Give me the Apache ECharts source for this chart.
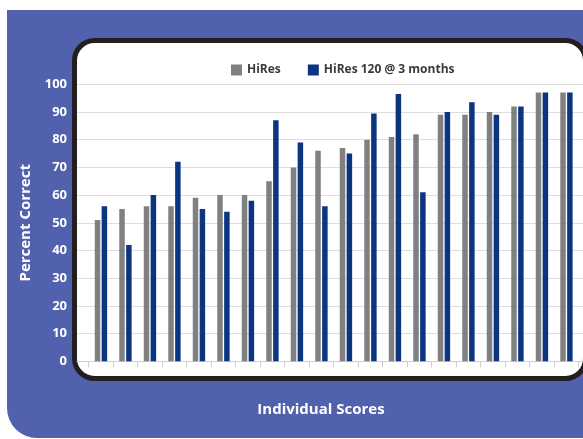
<!DOCTYPE html>
<html>
<head>
<meta charset="utf-8">
<script src="https://cdn.jsdelivr.net/npm/echarts@6/dist/echarts.min.js"></script>
<style>
  html, body { margin: 0; padding: 0; background: #fff; }
  #chart { width: 583px; height: 439px; }
</style>
</head>
<body>
<div id="chart"></div>
<script>
// data
var categories = ['1', '2', '3', '4', '5', '6', '7', '8', '9', '10',
  '11', '12', '13', '14', '15', '16', '17', '18', '19', '20']
var hiresScores = [51, 55, 56, 56, 59, 60, 60, 65, 70, 76, 77, 80, 81, 82, 89, 89, 90, 92, 97, 97]
var hires120Scores = [56, 42, 60, 72, 55, 54, 58, 87, 79, 56, 75, 89.5, 96.5, 61, 90, 93.5, 89, 92, 97, 97]
var yTicks = [0, 10, 20, 30, 40, 50, 60, 70, 80, 90, 100]

var seriesNames = ['HiRes', 'HiRes 120 @ 3 months']
var colorMap = ['#808083', '#0b3580']
var panelBlue = '#5161ad'
var fontFamily = '"Open Sans", "Noto Sans", sans-serif'

var chart = echarts.init(document.getElementById('chart'), null, { renderer: 'canvas' })

var series = []
var seriesData = [hiresScores, hires120Scores]
for (var i = 0; i < seriesData.length; i++) {
  series.push({
    name: seriesNames[i],
    type: 'bar',
    xAxisIndex: 1,
    yAxisIndex: 1,
    data: seriesData[i],
    barWidth: 5.5,
    barGap: '25%',
    itemStyle: { color: colorMap[i] },
    animation: false
  })
}

chart.setOption({
  animation: false,
  textStyle: { fontFamily: fontFamily },
  graphic: {
    elements: [
      // blue panel behind everything
      {
        type: 'rect',
        z: -20,
        shape: { x: 7, y: 10, width: 620, height: 428, r: [0, 30, 0, 30] },
        style: { fill: panelBlue }
      },
      // white plot box with thick black border (right side runs off the edge)
      {
        type: 'rect',
        z: -10,
        shape: { x: 74.5, y: 40.5, width: 511, height: 338, r: 20 },
        style: { fill: '#fff', stroke: '#231f20', lineWidth: 5 }
      },
      {
        type: 'text',
        z: 10,
        x: 321,
        y: 410,
        style: {
          text: 'Individual Scores',
          align: 'center',
          verticalAlign: 'middle',
          fill: '#fff',
          font: 'bold 15px ' + fontFamily
        }
      }
    ]
  },
  legend: {
    data: seriesNames,
    left: 226,
    top: 59,
    itemWidth: 11,
    itemHeight: 11,
    itemGap: 27,
    icon: 'rect',
    textStyle: { color: '#3a3a3a', fontWeight: 'bold', fontSize: 12, fontFamily: fontFamily }
  },
  grid: [
    // grid 0 only draws the split lines, baseline and y labels
    { left: 77, right: 0, top: 84.3, bottom: 77.7 },
    // grid 1 holds the bars
    { left: 88.7, right: 4.3, top: 84.3, bottom: 77.7 }
  ],
  xAxis: [
    {
      gridIndex: 0,
      type: 'value',
      min: 0,
      max: 1,
      axisLine: { show: true, lineStyle: { color: '#cfcfcf', width: 1 } },
      axisTick: { show: false },
      axisLabel: { show: false },
      splitLine: { show: false }
    },
    {
      gridIndex: 1,
      type: 'category',
      data: categories,
      axisLine: { show: false },
      axisTick: { show: true, length: 6, lineStyle: { color: '#cfcfcf' } },
      axisLabel: { show: false }
    }
  ],
  yAxis: [
    {
      gridIndex: 0,
      type: 'value',
      min: yTicks[0],
      max: yTicks[yTicks.length - 1],
      interval: 10,
      name: 'Percent Correct',
      nameLocation: 'middle',
      nameGap: 44,
      nameTextStyle: { color: '#fff', fontWeight: 'bold', fontSize: 15, fontFamily: fontFamily },
      axisLine: { show: false },
      axisTick: { show: false },
      axisLabel: { color: '#fff', fontWeight: 'bold', fontSize: 13, margin: 10, fontFamily: fontFamily },
      splitLine: { lineStyle: { color: '#dedede', width: 1 } }
    },
    {
      gridIndex: 1,
      type: 'value',
      min: 0,
      max: 100,
      show: false
    }
  ],
  series: series
})
</script>
</body>
</html>
